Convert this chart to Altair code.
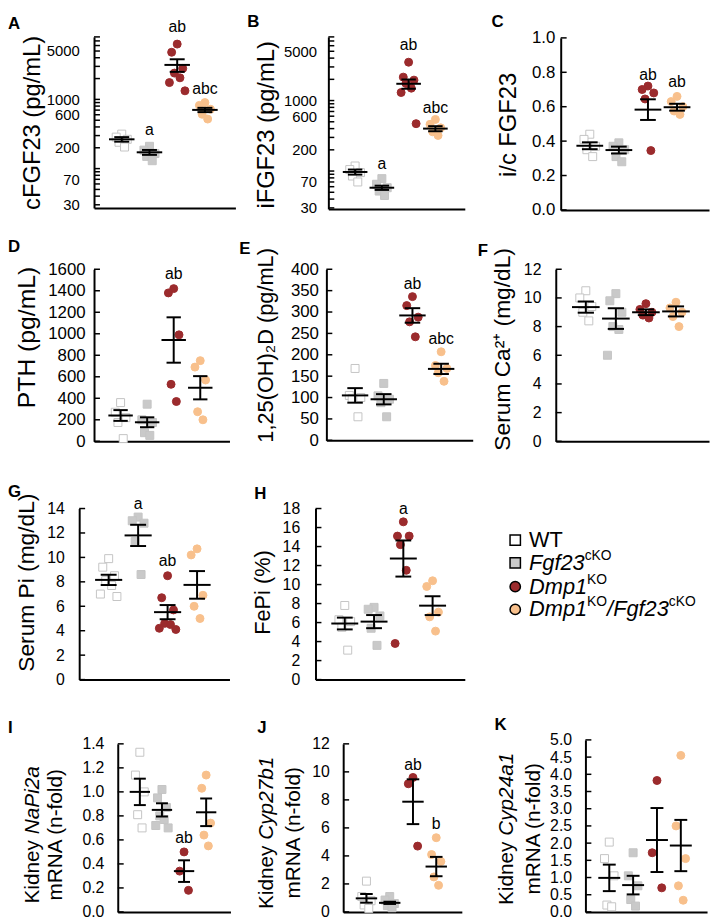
import altair as alt
import pandas as pd

FONT = "Liberation Sans"
W, H = 711, 912
OFF = 8  # page margin; layout positions below are page pixels

GROUPS = ["WT", "Fgf23cKO", "Dmp1KO", "Dmp1KO/Fgf23cKO"]
POINT_FILL = ["#ffffff", "#c9c9c9", "#9b2b2d", "#f8c08c"]
POINT_STROKE = ["#c4c4c4", "#c4c4c4", "#9b2b2d", "#f8c08c"]
POINT_SHAPE = ["square", "square", "circle", "circle"]

# ---------------- data ----------------
# A  cFGF23 (pg/mL), log axis
A_WT = [315, 285, 265, 240, 205]
A_FGF = [210, 185, 165, 150, 130]
A_DMP = [6300, 4800, 2800, 2400, 2050, 1750, 1330]
A_DKO = [900, 820, 720, 610, 520]
A_MEAN = [265, 172, 3150, 705]
A_SEM = [20, 14, 650, 50]
A_SIG = ["", "a", "ab", "abc"]
A_SIG_Y = [0, 360, 11000, 1390]
A_YLABELS = [30, 70, 200, 600, 1000, 5000]

# B  iFGF23 (pg/mL), log axis
B_WT = [118, 105, 95, 85, 70]
B_FGF = [78, 65, 58, 52, 45]
B_DMP = [3500, 2150, 1950, 1750, 1500, 1300, 470]
B_DKO = [540, 460, 410, 360, 320]
B_MEAN = [97, 58, 1730, 400]
B_SEM = [8, 4, 260, 33]
B_SIG = ["", "a", "ab", "abc"]
B_SIG_Y = [0, 127, 6070, 790]
B_YLABELS = [30, 70, 200, 600, 1000, 5000]

# C  i/c FGF23
C_WT = [0.44, 0.41, 0.37, 0.35, 0.31]
C_FGF = [0.39, 0.37, 0.35, 0.31, 0.28]
C_DMP = [0.72, 0.70, 0.68, 0.645, 0.345]
C_DKO = [0.66, 0.63, 0.60, 0.575, 0.555]
C_MEAN = [0.373, 0.348, 0.583, 0.597]
C_SEM = [0.02, 0.02, 0.06, 0.02]
C_SIG = ["", "", "ab", "ab"]
C_SIG_Y = [0, 0, 0.784, 0.746]
C_YLABELS = [0, 0.2, 0.4, 0.6, 0.8, 1.0]

# D  PTH (pg/mL)
D_WT = [360, 270, 220, 175, 25]
D_FGF = [345, 200, 175, 80, 55]
D_DMP = [1420, 1380, 990, 530, 370]
D_DKO = [750, 690, 570, 275, 200]
D_MEAN = [240, 177, 942, 498]
D_SEM = [50, 46, 211, 108]
D_SIG = ["", "", "ab", ""]
D_SIG_Y = [0, 0, 1554, 0]
D_YLABELS = [0, 200, 400, 600, 800, 1000, 1200, 1400, 1600]

# E  1,25(OH)2D (pg/mL)
E_WT = [168, 105, 100, 98, 55]
E_FGF = [133, 104, 96, 88, 55]
E_DMP = [336, 315, 288, 277, 242]
E_DKO = [207, 175, 168, 158, 138]
E_MEAN = [105, 96, 292, 167]
E_SEM = [17, 12, 17, 12]
E_SIG = ["", "", "ab", "abc"]
E_SIG_Y = [0, 0, 365, 236]
E_YLABELS = [0, 50, 100, 150, 200, 250, 300, 350, 400]

# F  Serum Ca2+ (mg/dL)
F_WT = [10.5, 10.0, 9.4, 9.0, 8.4]
F_FGF = [10.3, 9.8, 9.0, 8.0, 7.8, 6.0]
F_DMP = [9.6, 9.2, 9.0, 8.8, 8.6]
F_DKO = [9.7, 9.3, 9.0, 8.7, 8.0]
F_MEAN = [9.36, 8.56, 9.0, 9.06]
F_SEM = [0.39, 0.72, 0.2, 0.35]
F_SIG = ["", "", "", ""]
F_SIG_Y = [0, 0, 0, 0]
F_YLABELS = [0, 2, 4, 6, 8, 10, 12]

# G  Serum Pi (mg/dL)
G_WT = [9.9, 9.2, 8.5, 8.1, 7.7, 7.0, 6.8]
G_FGF = [13.3, 13.0, 12.8, 11.3, 8.6]
G_DMP = [8.5, 6.7, 5.7, 4.6, 4.5, 4.2, 4.1]
G_DKO = [10.7, 10.2, 6.9, 6.0, 5.0]
G_MEAN = [8.16, 11.8, 5.52, 7.75]
G_SEM = [0.42, 0.87, 0.58, 1.13]
G_SIG = ["", "a", "ab", ""]
G_SIG_Y = [0, 14.4, 9.7, 0]
G_YLABELS = [0, 2, 4, 6, 8, 10, 12, 14]

# H  FePi (%)
H_WT = [7.8, 6.3, 6.1, 5.5, 3.1]
H_FGF = [7.6, 7.4, 6.7, 5.4, 3.6]
H_DMP = [16.6, 15.1, 15.1, 14.2, 11.5, 3.8]
H_DKO = [10.4, 9.8, 7.1, 6.6, 5.1]
H_MEAN = [5.9, 6.1, 12.74, 7.78]
H_SEM = [0.62, 0.69, 1.9, 0.99]
H_SIG = ["", "", "a", ""]
H_SIG_Y = [0, 0, 17.9, 0]
H_YLABELS = [0, 2, 4, 6, 8, 10, 12, 14, 16, 18]

# I  Kidney NaPi2a mRNA (n-fold)
I_WT = [1.33, 1.14, 1.0, 0.81, 0.70]
I_FGF = [1.02, 0.95, 0.87, 0.80, 0.77, 0.72, 0.70]
I_DMP = [0.50, 0.34, 0.18]
I_DKO = [1.14, 1.03, 0.74, 0.64, 0.55]
I_MEAN = [1.0, 0.85, 0.34, 0.83]
I_SEM = [0.11, 0.055, 0.09, 0.115]
I_SIG = ["", "", "ab", ""]
I_SIG_Y = [0, 0, 0.613, 0]
I_YLABELS = [0, 0.2, 0.4, 0.6, 0.8, 1.0, 1.2, 1.4]

# J  Kidney Cyp27b1 mRNA (n-fold)
J_WT = [2.2, 1.1, 0.8, 0.5, 0.25]
J_FGF = [1.1, 0.85, 0.6, 0.45, 0.3]
J_DMP = [9.6, 9.15, 4.7]
J_DKO = [5.3, 4.1, 3.6, 2.5, 1.9]
J_MEAN = [0.97, 0.65, 7.87, 3.24]
J_SEM = [0.31, 0.08, 1.6, 0.69]
J_SIG = ["", "", "ab", "b"]
J_SIG_Y = [0, 0, 10.5, 6.25]
J_YLABELS = [0, 2, 4, 6, 8, 10, 12]

# K  Kidney Cyp24a1 mRNA (n-fold)
K_WT = [2.03, 1.55, 1.05, 0.2, 0.15]
K_FGF = [1.72, 1.05, 0.76, 0.36, 0.17]
K_DMP = [3.82, 1.72, 0.7]
K_DKO = [4.55, 2.5, 1.55, 0.76, 0.34]
K_MEAN = [0.99, 0.78, 2.09, 1.93]
K_SEM = [0.385, 0.27, 0.93, 0.745]
K_SIG = ["", "", "", ""]
K_SIG_Y = [0, 0, 0, 0]
K_YLABELS = [0, 0.5, 1.0, 1.5, 2.0, 2.5, 3.0, 3.5, 4.0, 4.5, 5.0]

# ---------------- helpers ----------------
EM = {"K": .667, "i": .222, "d": .556, "n": .556, "e": .556, "y": .5, " ": .278,
      "N": .722, "a": .556, "P": .667, "2": .556, "C": .722, "p": .556, "7": .556,
      "b": .556, "1": .556, "4": .556, "D": .722, "m": .833, "F": .611, "g": .556,
      "f": .278, "3": .556, "c": .5, "O": .778, "/": .278}


def tw(s, fs):
    return sum(EM.get(ch, .556) for ch in s) * fs


def log_minor(lo, hi):
    out = []
    dec = 1
    while dec < hi * 10:
        for m in range(1, 10):
            v = m * dec
            if lo <= v <= hi:
                out.append(v)
        dec *= 10
    return out


fill_scale = alt.Scale(domain=GROUPS, range=POINT_FILL)
stroke_scale = alt.Scale(domain=GROUPS, range=POINT_STROKE)
shape_scale = alt.Scale(domain=GROUPS, range=POINT_SHAPE)
JIT = [0.0, -0.2, 0.2, -0.1, 0.1, -0.28, 0.28]


def txt(t, x, y, **kw):
    props = dict(font=FONT, color="black")
    props.update(kw)
    return alt.Chart(pd.DataFrame({"t": [t]})).mark_text(text=t, **props).encode(
        x=alt.value(x - OFF), y=alt.value(y - OFF))


def panel(P):
    x0, x1, yt, yb = (v - OFF for v in P["box"])
    xsc = alt.Scale(domain=[0, 5.1], range=[x0, x1], nice=False, zero=False)
    if P["log"]:
        ysc = alt.Scale(type="log", domain=P["domain"], range=[yb, yt], nice=False)
        ticks = log_minor(*P["domain"])
    else:
        ysc = alt.Scale(domain=P["domain"], range=[yb, yt], nice=False, zero=False)
        ticks = P["labels"]
    rows = []
    for gi, (g, vals) in enumerate(zip(GROUPS, P["values"])):
        for k, v in enumerate(sorted(vals, reverse=True)):
            rows.append({"g": g, "gx": gi + 1 + JIT[k % len(JIT)], "v": v})
    pts = pd.DataFrame(rows)
    st = pd.DataFrame({
        "gx": [1, 2, 3, 4], "mean": P["mean"],
        "lo": [m - s for m, s in zip(P["mean"], P["sem"])],
        "hi": [m + s for m, s in zip(P["mean"], P["sem"])],
    })
    st["mx0"] = st.gx - 0.46
    st["mx1"] = st.gx + 0.46
    st["cx0"] = st.gx - 0.27
    st["cx1"] = st.gx + 0.27
    sig = pd.DataFrame({"gx": [1, 2, 3, 4], "v": P["sig_y"], "s": P["sig"]})
    sig = sig[sig.s != ""]

    yaxis = alt.Axis(orient="left", offset=-x0, values=P["labels"], format=P["fmt"],
                     ticks=False, grid=False, title=None, domainColor="black",
                     domainWidth=2, labelFontSize=P["lfs"], labelPadding=P["lpad"],
                     labelColor="black", labelFont=FONT, labelOverlap=False,
                     labelFlush=False, labelBound=False)
    xaxis = alt.Axis(orient="bottom", offset=yb - H, labels=False, ticks=False,
                     grid=False, title=None, domainColor="black", domainWidth=2)

    def X(f):
        return alt.X(f, scale=xsc, axis=xaxis)

    def Y(f):
        return alt.Y(f, scale=ysc, axis=yaxis)

    layers = []
    base = alt.Chart(st)
    layers.append(alt.Chart(pts).mark_point(filled=True, size=65, opacity=1,
                                            strokeWidth=1, strokeOpacity=1).encode(
        x=X("gx:Q"), y=Y("v:Q"),
        fill=alt.Fill("g:N", scale=fill_scale, legend=None),
        stroke=alt.Stroke("g:N", scale=stroke_scale, legend=None),
        shape=alt.Shape("g:N", scale=shape_scale, legend=None)))
    layers.append(alt.Chart(pd.DataFrame({"t": ticks})).mark_rule(
        color="black", strokeWidth=1.5).encode(
        y=Y("t:Q"), x=alt.value(x0), x2=alt.value(x0 + 6)))
    layers.append(base.mark_rule(color="black", strokeWidth=2).encode(
        x=X("gx:Q"), y=Y("lo:Q"), y2="hi:Q"))
    for col in ["lo", "hi"]:
        layers.append(base.mark_rule(color="black", strokeWidth=2).encode(
            x=X("cx0:Q"), x2="cx1:Q", y=Y(f"{col}:Q")))
    layers.append(base.mark_rule(color="black", strokeWidth=2).encode(
        x=X("mx0:Q"), x2="mx1:Q", y=Y("mean:Q")))
    if len(sig):
        layers.append(alt.Chart(sig).mark_text(font=FONT, fontSize=16, color="black",
                                               baseline="middle").encode(
            x=X("gx:Q"), y=Y("v:Q"), text="s:N"))
    # panel letter
    lx, ly = P["letter_xy"]
    layers.append(txt(P["letter"], lx, ly, fontSize=17, fontWeight="bold",
                      align="left", baseline="alphabetic"))
    # y title
    tfs = P["tfs"]
    if "title2" in P:
        (n1, g1), l2 = P["title"], P["title2"]
        tx1, tx2, tyc = P["title_xy"]
        total = tw(n1, tfs) + tw(g1, tfs)
        ystart = tyc + total / 2
        layers.append(txt(n1, tx1, ystart, fontSize=tfs, angle=270, align="left", baseline="middle"))
        layers.append(txt(g1, tx1, ystart - tw(n1, tfs), fontSize=tfs, angle=270,
                          align="left", baseline="middle", fontStyle="italic"))
        layers.append(txt(l2, tx2, tyc, fontSize=tfs, angle=270, align="center", baseline="middle"))
    else:
        tx, ty = P["title_xy"]
        layers.append(txt(P["title"], tx, ty, fontSize=tfs, angle=270, align="center",
                          baseline="middle"))
    return alt.layer(*layers)


PANELS = [
    dict(letter="A", values=[A_WT, A_FGF, A_DMP, A_DKO], mean=A_MEAN, sem=A_SEM, sig=A_SIG,
         sig_y=A_SIG_Y, labels=A_YLABELS, log=True, domain=[27, 8000], fmt="d",
         box=(95, 238, 25, 198), letter_xy=(8, 17), title="cFGF23 (pg/mL)",
         title_xy=(33, 112), tfs=24, lfs=15, lpad=15),
    dict(letter="B", values=[B_WT, B_FGF, B_DMP, B_DKO], mean=B_MEAN, sem=B_SEM, sig=B_SIG,
         sig_y=B_SIG_Y, labels=B_YLABELS, log=True, domain=[29, 8000], fmt="d",
         box=(332, 470, 25, 199), letter_xy=(250, 15), title="iFGF23 (pg/mL)",
         title_xy=(270, 114), tfs=24, lfs=15, lpad=12),
    dict(letter="C", values=[C_WT, C_FGF, C_DMP, C_DKO], mean=C_MEAN, sem=C_SEM, sig=C_SIG,
         sig_y=C_SIG_Y, labels=C_YLABELS, log=False, domain=[0, 1.0], fmt=".1f",
         box=(567, 717, 26, 200), letter_xy=(497, 15), title="i/c FGF23",
         title_xy=(515, 114), tfs=24, lfs=17, lpad=6),
    dict(letter="D", values=[D_WT, D_FGF, D_DMP, D_DKO], mean=D_MEAN, sem=D_SEM, sig=D_SIG,
         sig_y=D_SIG_Y, labels=D_YLABELS, log=False, domain=[0, 1600], fmt="d",
         box=(95, 232, 260, 434), letter_xy=(8, 243), title="PTH (pg/mL)",
         title_xy=(27, 329), tfs=25, lfs=17, lpad=9),
    dict(letter="E", values=[E_WT, E_FGF, E_DMP, E_DKO], mean=E_MEAN, sem=E_SEM, sig=E_SIG,
         sig_y=E_SIG_Y, labels=E_YLABELS, log=False, domain=[0, 400], fmt="d",
         box=(330, 478, 260, 433), letter_xy=(242, 245), title="1,25(OH)\u2082D (pg/mL)",
         title_xy=(269, 337), tfs=22, lfs=17, lpad=8),
    dict(letter="F", values=[F_WT, F_FGF, F_DMP, F_DKO], mean=F_MEAN, sem=F_SEM, sig=F_SIG,
         sig_y=F_SIG_Y, labels=F_YLABELS, log=False, domain=[0, 12], fmt="d",
         box=(562, 717, 260, 434), letter_xy=(483, 247), title="Serum Ca\u00b2\u207a (mg/dL)",
         title_xy=(509, 341), tfs=23, lfs=16, lpad=15),
    dict(letter="G", values=[G_WT, G_FGF, G_DMP, G_DKO], mean=G_MEAN, sem=G_SEM, sig=G_SIG,
         sig_y=G_SIG_Y, labels=G_YLABELS, log=False, domain=[0, 14], fmt="d",
         box=(80, 232, 502, 675), letter_xy=(8, 490), title="Serum Pi (mg/dL)",
         title_xy=(27, 577), tfs=23, lfs=16, lpad=15),
    dict(letter="H", values=[H_WT, H_FGF, H_DMP, H_DKO], mean=H_MEAN, sem=H_SEM, sig=H_SIG,
         sig_y=H_SIG_Y, labels=H_YLABELS, log=False, domain=[0, 18], fmt="d",
         box=(319, 470, 502, 675), letter_xy=(257, 492), title="FePi (%)",
         title_xy=(266, 587), tfs=22, lfs=16, lpad=16),
    dict(letter="I", values=[I_WT, I_FGF, I_DMP, I_DKO], mean=I_MEAN, sem=I_SEM, sig=I_SIG,
         sig_y=I_SIG_Y, labels=I_YLABELS, log=False, domain=[0, 1.4], fmt=".1f",
         box=(119, 233, 740, 910), letter_xy=(8, 729), title=("Kidney ", "NaPi2a"),
         title2="mRNA (n-fold)", title_xy=(33, 57, 832), tfs=21, lfs=16, lpad=14),
    dict(letter="J", values=[J_WT, J_FGF, J_DMP, J_DKO], mean=J_MEAN, sem=J_SEM, sig=J_SIG,
         sig_y=J_SIG_Y, labels=J_YLABELS, log=False, domain=[0, 12], fmt="d",
         box=(347, 467, 740, 910), letter_xy=(260, 729), title=("Kidney ", "Cyp27b1"),
         title2="mRNA (n-fold)", title_xy=(270, 297, 830), tfs=21, lfs=16, lpad=14),
    dict(letter="K", values=[K_WT, K_FGF, K_DMP, K_DKO], mean=K_MEAN, sem=K_SEM, sig=K_SIG,
         sig_y=K_SIG_Y, labels=K_YLABELS, log=False, domain=[0, 5.0], fmt=".1f",
         box=(592, 715, 736, 910), letter_xy=(500, 726), title=("Kidney ", "Cyp24a1"),
         title2="mRNA (n-fold)", title_xy=(513, 540, 826), tfs=21, lfs=16, lpad=14),
]

charts = [panel(P) for P in PANELS]

# ---------------- legend ----------------
LEG_SYM_X = 521
LEG_TXT_X = 535
LEG_ROWS_Y = [534, 557, 581, 604]
LEG_LABELS = [
    [("WT", "n")],
    [("Fgf23", "i"), ("cKO", "s")],
    [("Dmp1", "i"), ("KO", "s")],
    [("Dmp1", "i"), ("KO", "s"), ("/", "i"), ("Fgf23", "i"), ("cKO", "s")],
]
MAIN_FS, SUP_FS = 22, 14
for gi, (ry, pieces) in enumerate(zip(LEG_ROWS_Y, LEG_LABELS)):
    sym = alt.Chart(pd.DataFrame({"g": [GROUPS[gi]]})).mark_point(
        filled=True, size=110, shape=POINT_SHAPE[gi], fill=POINT_FILL[gi], opacity=1,
        stroke="black", strokeWidth=1.5).encode(
        x=alt.value(LEG_SYM_X - OFF), y=alt.value(ry - OFF))
    charts.append(sym)
    cx = LEG_TXT_X
    for s, kind in pieces:
        if kind == "s":
            charts.append(txt(s, cx, ry - 7, fontSize=SUP_FS, align="left", baseline="middle"))
            cx += tw(s, SUP_FS)
        else:
            kw = dict(fontSize=MAIN_FS, align="left", baseline="middle")
            if kind == "i":
                kw["fontStyle"] = "italic"
            charts.append(txt(s, cx, ry, **kw))
            cx += tw(s, MAIN_FS)

chart = alt.layer(*charts).resolve_scale(x="independent", y="independent").properties(
    width=W, height=H, padding=0
).configure_view(stroke=None)

chart.save("out.html", embed_options={"renderer": "svg", "actions": False})
